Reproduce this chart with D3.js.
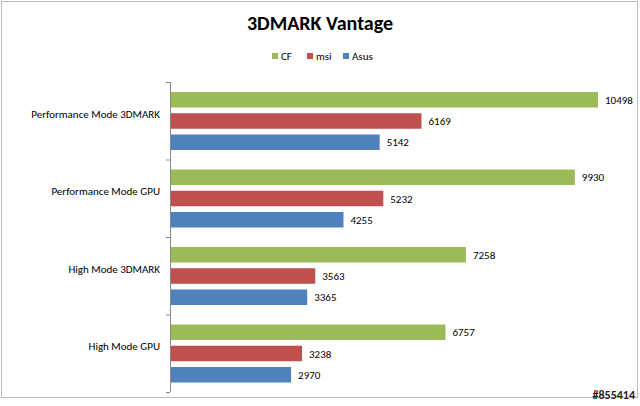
<!DOCTYPE html><html><head><meta charset="utf-8"><script src="https://cdn.jsdelivr.net/npm/d3@7"></script>
<style>body{margin:0;background:#fff}text{font-family:Calibri,Carlito,"Liberation Sans",Arial,sans-serif}</style></head><body>
<svg id="c" width="640" height="406"></svg>
<script>
const categories=["Performance Mode 3DMARK","Performance Mode GPU","High Mode 3DMARK","High Mode GPU"];
const seriesNames=["CF","msi","Asus"];
const colors=["#9bbb59","#c0504d","#4f81bd"];
const cf=[10498,9930,7258,6757];
const msi=[6169,5232,3563,3238];
const asus=[5142,4255,3365,2970];
const vals=[cf,msi,asus];
const svg=d3.select("#c");
svg.append("rect").attr("x",1.5).attr("y",1.5).attr("width",636).attr("height",396).attr("fill","#fff").attr("stroke","#bbb");
svg.append("text").attr("x",320).attr("y",30).attr("text-anchor","middle").attr("font-size",20).attr("font-weight","bold").text("3DMARK Vantage");
const x=d3.scaleLinear().domain([0,10498]).range([170,598]);
const y=d3.scaleBand().domain(categories).range([82,392]);
const inner=d3.scaleBand().domain(seriesNames).range([10,68]).paddingInner(0.27);
// legend
const lg=[[272,"CF"],[307,"msi"],[343,"Asus"]];
lg.forEach((l,i)=>{svg.append("rect").attr("x",l[0]).attr("y",53).attr("width",6).attr("height",6).attr("fill",colors[i]);
svg.append("text").attr("x",l[0]+9).attr("y",60).attr("font-size",11).text(l[1]);});
seriesNames.forEach((s,si)=>{
 categories.forEach((c,ci)=>{
  const yy=y(c)+inner(s);
  svg.append("rect").attr("x",x(0)).attr("y",yy).attr("width",x(vals[si][ci])-x(0)).attr("height",inner.bandwidth()).attr("fill",colors[si]);
  svg.append("text").attr("x",x(vals[si][ci])+7).attr("y",yy+inner.bandwidth()/2+4).attr("font-size",11).text(vals[si][ci]);
 });
});
categories.forEach(c=>svg.append("text").attr("x",160).attr("y",y(c)+y.bandwidth()/2+4-7).attr("text-anchor","end").attr("font-size",11).text(c));
svg.append("line").attr("x1",170.5).attr("x2",170.5).attr("y1",82).attr("y2",392).attr("stroke","#888");
categories.concat([null]).forEach((c,i)=>{const yy=82+i*y.step();svg.append("line").attr("x1",166).attr("x2",170).attr("y1",yy+0.5).attr("y2",yy+0.5).attr("stroke","#888");});
svg.append("text").attr("x",635).attr("y",399).attr("text-anchor","end").attr("font-size",12).attr("font-weight","bold").attr("fill","#222").text("#855414");
</script></body></html>
